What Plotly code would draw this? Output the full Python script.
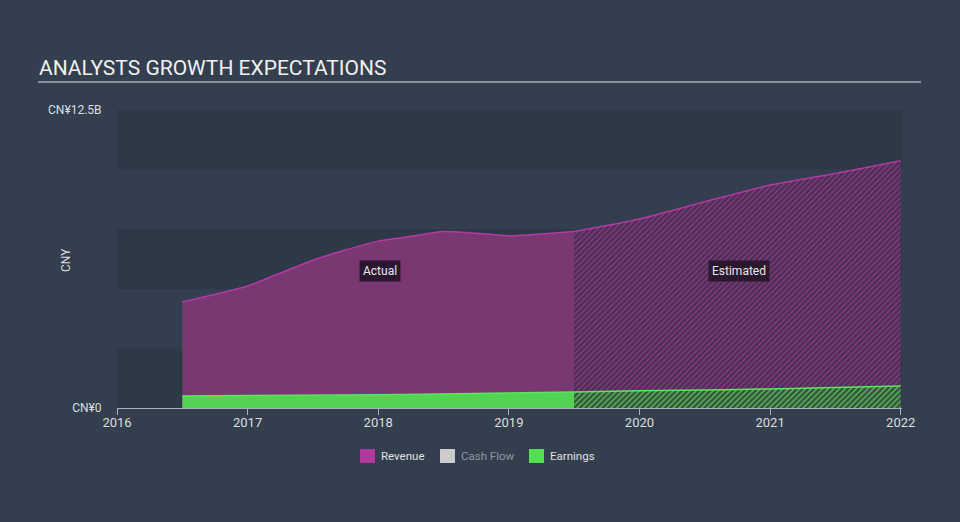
import plotly.graph_objects as go

# ---- data (values in CNY billions) ----
rev_actual_x = [2016.5, 2017.0, 2017.25, 2017.5, 2017.75, 2018.0, 2018.25, 2018.5, 2018.75, 2019.0, 2019.25, 2019.5]
rev_actual_y = [4.45, 5.12, 5.66, 6.2, 6.63, 7.0, 7.2, 7.4, 7.33, 7.23, 7.3, 7.4]
rev_est_x = [2019.5, 2020.0, 2020.5, 2021.0, 2021.5, 2022.0]
rev_est_y = [7.4, 7.93, 8.65, 9.35, 9.84, 10.37]
earn_actual_x = [2016.5, 2017.0, 2018.0, 2019.0, 2019.5]
earn_actual_y = [0.5, 0.52, 0.56, 0.63, 0.67]
earn_est_x = [2019.5, 2020.0, 2021.0, 2022.0]
earn_est_y = [0.67, 0.72, 0.8, 0.92]

year_ticks = [2016, 2017, 2018, 2019, 2020, 2021, 2022]
year_labels = ["2016", "2017", "2018", "2019", "2020", "2021", "2022"]
y_ticks = [0, 12.5]
y_labels = ["CN¥0", "CN¥12.5B"]
band_edges = [0, 2.5, 5, 7.5, 10, 12.5]
legend_names = ["Revenue", "Cash Flow", "Earnings"]
legend_colors = ["#b03a9c", "#cccccc", "#52e052"]
legend_text_colors = ["#e0e0e0", "#8e96a0", "#e0e0e0"]

BG = "#333f4f"
BAND = "#2d3947"
REV_LINE = "#b23aa2"
REV_FILL = "#7a3873"
EARN_LINE = "#5ce65c"
EARN_FILL = "#52d452"
FONT = "Roboto"

# pixel -> paper helpers (plot area: x 117..902, y 110..408)
def px(xp):
    return (xp - 117) / 785.0

def py(yp):
    return (408 - yp) / 298.0

fig = go.Figure()

fig.add_trace(go.Scatter(
    x=rev_actual_x, y=rev_actual_y, mode="lines", line=dict(color=REV_LINE, width=1.5, shape="spline", smoothing=0.6),
    fill="tozeroy", fillcolor=REV_FILL, showlegend=False, hoverinfo="skip"))
fig.add_trace(go.Scatter(
    x=rev_est_x, y=rev_est_y, mode="lines", line=dict(color=REV_LINE, width=1.5, shape="spline", smoothing=0.6),
    fill="tozeroy", fillcolor="#4a2e52",
    fillpattern=dict(shape="/", fgcolor="#8a3a86", bgcolor="#4a2f52", size=4, solidity=0.35, fillmode="replace"),
    showlegend=False, hoverinfo="skip"))
fig.add_trace(go.Scatter(
    x=earn_actual_x, y=earn_actual_y, mode="lines", line=dict(color=EARN_LINE, width=1.5, shape="spline"),
    fill="tozeroy", fillcolor=EARN_FILL, showlegend=False, hoverinfo="skip"))
fig.add_trace(go.Scatter(
    x=earn_est_x, y=earn_est_y, mode="lines", line=dict(color=EARN_LINE, width=1.5, shape="spline"),
    fill="tozeroy", fillcolor="#3b5a46",
    fillpattern=dict(shape="/", fgcolor="#56c456", bgcolor="#37523f", size=4, solidity=0.35, fillmode="replace"),
    showlegend=False, hoverinfo="skip"))

shapes = []
for i in range(0, len(band_edges) - 1):
    if i % 2 == 0:
        shapes.append(dict(type="rect", xref="paper", yref="y", x0=0, x1=1,
                           y0=band_edges[i], y1=band_edges[i + 1], fillcolor=BAND, line_width=0, layer="below"))
shapes.append(dict(type="line", xref="paper", yref="paper", x0=px(38), x1=px(921), y0=py(82), y1=py(82),
                   line=dict(color="#a9b0b8", width=1.5)))

annotations = [
    dict(text="ANALYSTS GROWTH EXPECTATIONS", xref="paper", yref="paper", x=px(37), y=py(68),
         xanchor="left", yanchor="middle", showarrow=False, font=dict(family=FONT, size=21, color="#f0f0f0")),
    dict(text="CNY", xref="paper", yref="paper", x=px(66), y=py(260), textangle=-90, showarrow=False,
         xanchor="center", yanchor="middle", font=dict(family=FONT, size=12, color="#dddddd")),
    dict(text="Actual", x=2018.01, y=5.75, showarrow=False, bgcolor="#2b1830",
         font=dict(family=FONT, size=12, color="#e8e8e8"), borderpad=3),
    dict(text="Estimated", x=2020.76, y=5.75, showarrow=False, bgcolor="#2b1830",
         font=dict(family=FONT, size=12, color="#e8e8e8"), borderpad=3),
]

# manual legend
sw_left = [360, 440, 529]
for name, col, tcol, x0 in zip(legend_names, legend_colors, legend_text_colors, sw_left):
    shapes.append(dict(type="rect", xref="paper", yref="paper", x0=px(x0), x1=px(x0 + 15),
                       y0=py(463), y1=py(449), fillcolor=col, line_width=0))
    annotations.append(dict(text=name, xref="paper", yref="paper", x=px(x0 + 19), y=py(456),
                            xanchor="left", yanchor="middle", showarrow=False,
                            font=dict(family=FONT, size=11.5, color=tcol)))

fig.update_layout(
    width=960, height=522,
    paper_bgcolor=BG, plot_bgcolor=BG,
    margin=dict(l=117, r=58, t=110, b=114),
    font=dict(family=FONT, size=12, color="#dddddd"),
    shapes=shapes, annotations=annotations,
    showlegend=False,
    xaxis=dict(range=[2016, 2022.01], tickvals=year_ticks, ticktext=year_labels, showgrid=False,
               zeroline=False, showline=True, linecolor="#a9b0b8", linewidth=1,
               ticks="outside", ticklen=6, tickcolor="#a9b0b8", ticklabelstandoff=-4,
               tickfont=dict(size=13, color="#dddddd")),
    yaxis=dict(range=[0, 12.5], tickvals=y_ticks, ticktext=y_labels, showgrid=False, zeroline=False,
               showline=False, ticks="outside", ticklen=12, tickcolor="rgba(0,0,0,0)",
               tickfont=dict(size=12, color="#dddddd")),
)

fig.write_html("out.html", config={"displayModeBar": False},
               post_script="document.body.style.margin='0';document.body.style.padding='0';")
